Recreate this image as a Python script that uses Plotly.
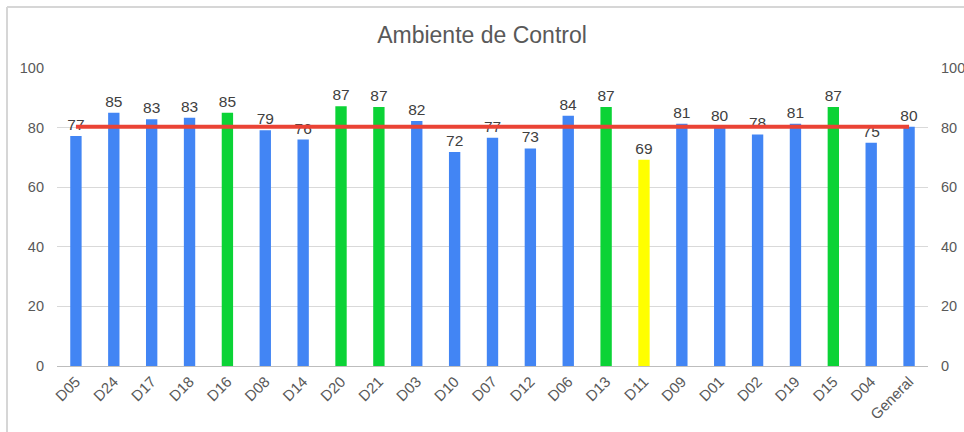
import plotly.graph_objects as go

# Data
categories = ["D05", "D24", "D17", "D18", "D16", "D08", "D14", "D20", "D21", "D03", "D10",
              "D07", "D12", "D06", "D13", "D11", "D09", "D01", "D02", "D19", "D15", "D04", "General"]
scores = [77.2, 85.0, 82.8, 83.3, 85.0, 79.1, 76.0, 87.2, 86.9, 82.2, 71.8,
          76.6, 73.0, 84.0, 86.9, 69.2, 81.3, 80.3, 77.7, 81.3, 86.9, 74.9, 80.3]
general_value = 80.3
green_items = ["D16", "D20", "D21", "D13", "D15"]
yellow_items = ["D11"]
y_ticks = [0, 20, 40, 60, 80, 100]

BLUE = "#4285F4"
GREEN = "#0BD336"
YELLOW = "#FFFF00"
RED = "#EA4335"
TEXT = "#595959"
FONT = "Arial, Liberation Sans"


def bar_color(cat):
    if cat in green_items:
        return GREEN
    if cat in yellow_items:
        return YELLOW
    return BLUE


colors = [bar_color(c) for c in categories]

fig = go.Figure()

fig.add_trace(go.Bar(
    x=categories, y=scores,
    marker=dict(color=colors, line=dict(width=0)),
    text=[f"{v:.0f}" for v in scores],
    textposition="outside",
    constraintext="none",
    textfont=dict(size=15.5, color="#404040", family=FONT),
    cliponaxis=False,
    showlegend=False,
))

fig.add_trace(go.Scatter(
    x=categories, y=[general_value] * len(categories),
    mode="lines",
    line=dict(color=RED, width=4),
    yaxis="y2",
    showlegend=False,
))

axis_font = dict(size=14.5, color=TEXT, family=FONT)

fig.update_layout(
    width=964, height=432,
    margin=dict(l=57, r=36, t=68, b=66, autoexpand=False),
    paper_bgcolor="white",
    plot_bgcolor="white",
    bargap=0.7,
    title=dict(text="Ambiente de Control", x=0.5, xanchor="center", y=0.92, yanchor="middle",
               font=dict(size=23, color=TEXT, family=FONT)),
    xaxis=dict(
        tickangle=-45, tickfont=dict(size=15, color=TEXT, family=FONT),
        showline=True, linecolor="#bdbdbd", linewidth=1, showgrid=False, ticks="",
        automargin=False,
    ),
    yaxis=dict(
        range=[0, 100], tickvals=y_ticks, tickfont=axis_font,
        showgrid=True, gridcolor="#d9d9d9", gridwidth=1, zeroline=False,
        ticks="", ticklabelstandoff=12, automargin=False,
    ),
    yaxis2=dict(
        range=[0, 100], tickvals=y_ticks, tickfont=axis_font,
        overlaying="y", side="right", showgrid=False, zeroline=False,
        ticks="", ticklabelstandoff=12, automargin=False,
    ),
    shapes=[
        dict(type="line", xref="paper", yref="paper", x0=-0.0574, x1=1.1, y0=1.2047, y1=1.2047,
             line=dict(color="#d6d6d6", width=2)),
        dict(type="line", xref="paper", yref="paper", x0=-0.0574, x1=-0.0574, y0=-0.3, y1=1.2047,
             line=dict(color="#d6d6d6", width=2)),
    ],
)

fig.write_html("out.html", config={"displayModeBar": False},
               post_script="document.body.style.margin='0';")
